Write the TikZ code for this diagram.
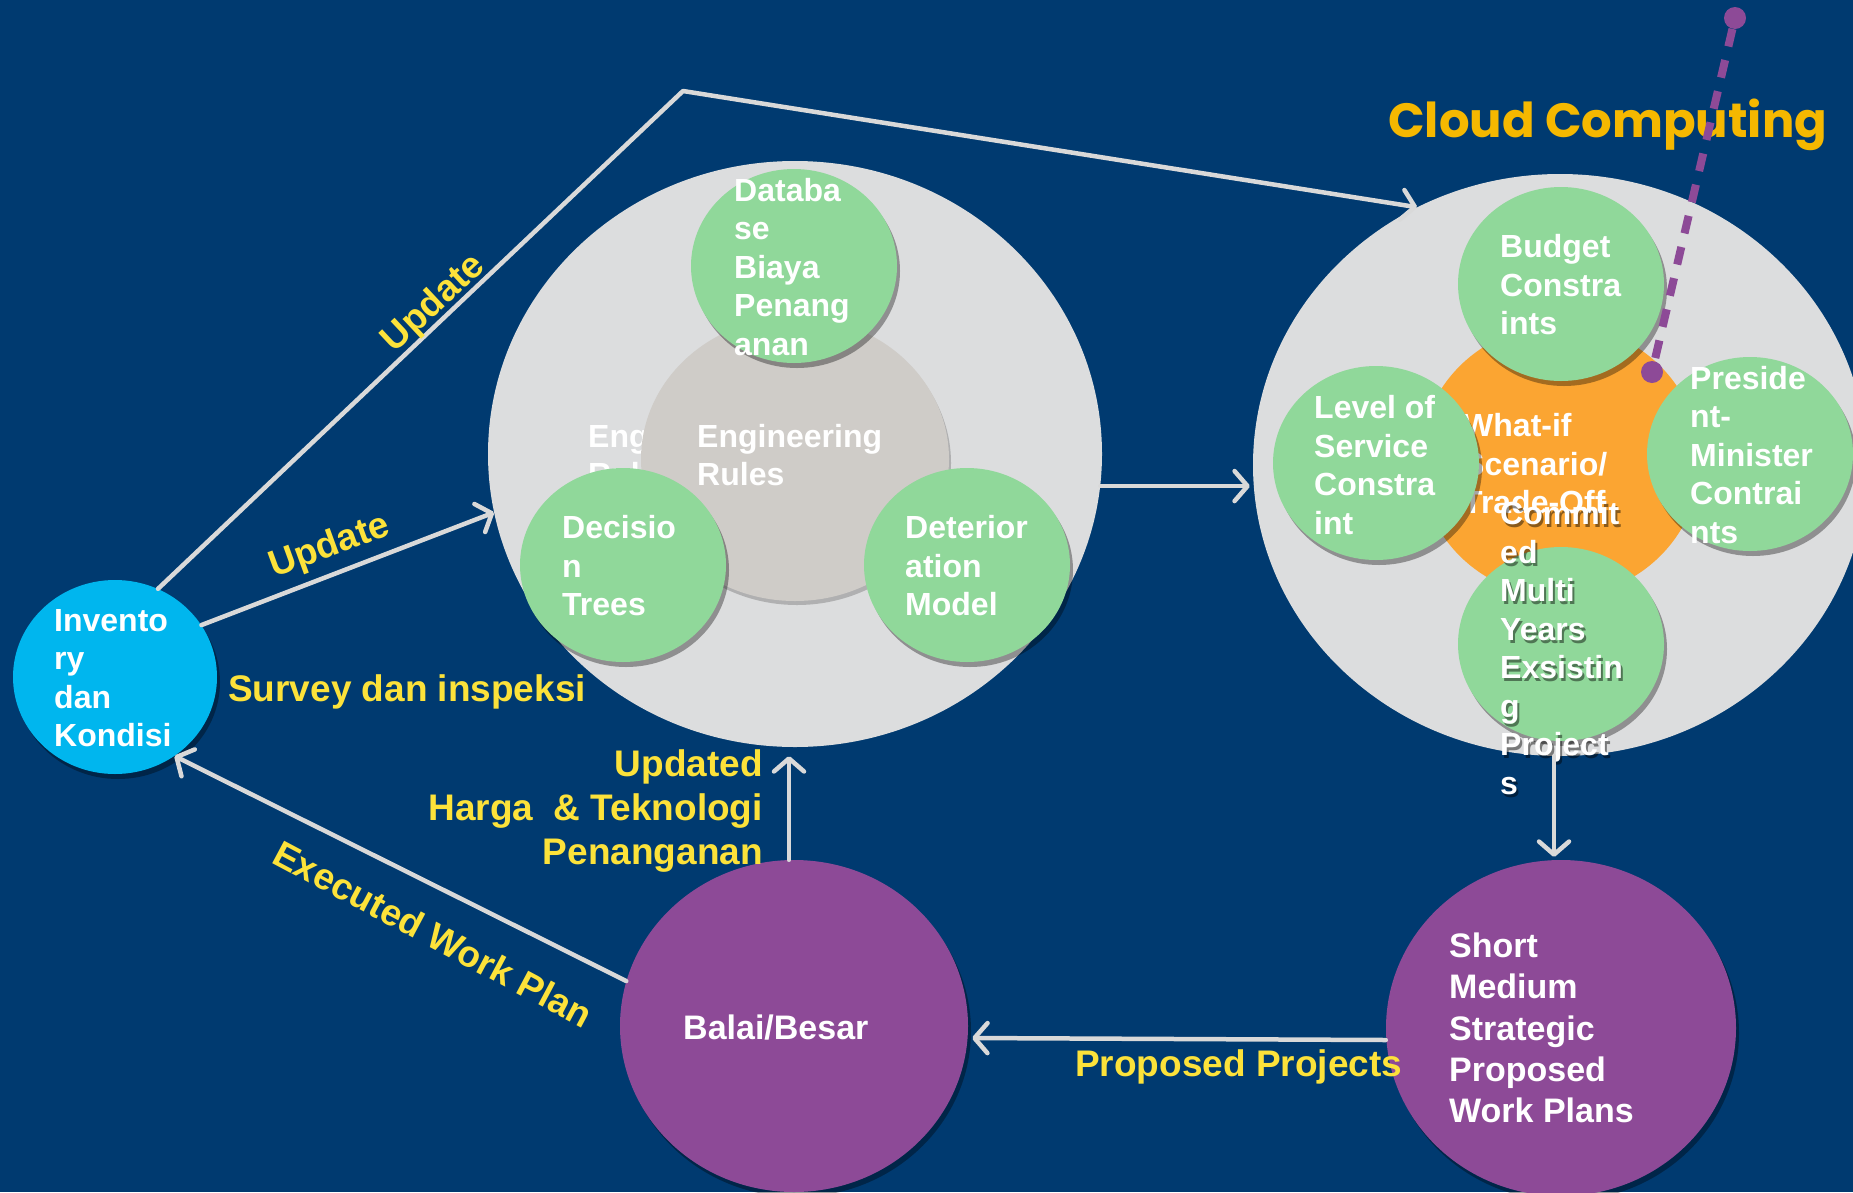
\documentclass[tikz,border=0pt]{standalone}
\usepackage{fontspec}
\setmainfont{Liberation Sans}
\newfontfamily\cloudfont{Poppins}
\usetikzlibrary{shapes.geometric,arrows.meta,shadows}

\definecolor{bgblue}{HTML}{003A70}
\definecolor{biggray}{HTML}{DCDDDE}
\definecolor{innergray}{HTML}{CFCCC8}
\definecolor{leafgreen}{HTML}{90D89A}
\definecolor{orangefill}{HTML}{FBA532}
\definecolor{cyanfill}{HTML}{00B6EE}
\definecolor{purplefill}{HTML}{8D4A97}
\definecolor{labelyellow}{HTML}{FCE23A}
\definecolor{cloudgold}{HTML}{F5B800}
\definecolor{arrowgray}{HTML}{D9D9D9}

\begin{document}
\begin{tikzpicture}[x=1pt,y=-1pt,
  blob/.style={ellipse, inner sep=0pt, draw=none},
  bigc/.style={blob, fill=biggray, minimum width=614pt, minimum height=586pt},
  gnode/.style={blob, fill=leafgreen, minimum width=206pt, minimum height=194pt,
     drop shadow={shadow xshift=3pt, shadow yshift=-5pt, opacity=0.35, fill=black}},
  pnode/.style={blob, fill=purplefill,
     drop shadow={shadow xshift=3pt, shadow yshift=-5pt, opacity=0.35, fill=black}},
  ntext/.style={text=white, font=\fontsize{32}{38.5}\selectfont\bfseries, align=left, anchor=west, inner sep=0pt},
  ptext/.style={text=white, font=\fontsize{34}{41.4}\selectfont\bfseries, align=left, anchor=west, inner sep=0pt},
  lbl/.style={text=labelyellow, font=\fontsize{37}{44}\selectfont\bfseries, inner sep=0pt},
  arr/.style={draw=arrowgray, line width=4.5pt, line cap=round, line join=round,
     -{Straight Barb[length=13pt,width=30pt,round]}},
]
\fill[bgblue] (0,0) rectangle (1853,1192);
\useasboundingbox (0,0) rectangle (1853,1192);

% ---------- left cluster ----------
\node[bigc] (lbig) at (795,454) {};
\node[ntext] (ghost) at (588,455) {Engineering\\Rules};
\node[blob, fill=innergray, minimum width=308pt, minimum height=284pt,
      drop shadow={shadow xshift=2pt, shadow yshift=-4pt, opacity=0.2, fill=black}] (inner) at (795,459) {};
\node[ntext] (innert) at (697,455) {Engineering\\Rules};
\node[gnode] (db) at (794,266) {};
\node[gnode] (dt) at (623,565) {};
\node[gnode] (dm) at (967,565) {};
\node[ntext] (dbt) at (734,267) {Databa\\se\\Biaya\\Penang\\anan};
\node[ntext] (dtt) at (562,566) {Decisio\\n\\Trees};
\node[ntext] (dmt) at (905,566) {Deterior\\ation\\Model};

% ---------- right cluster ----------
\node[bigc, minimum height=582pt] (rbig) at (1560,465) {};
\node[blob, fill=orangefill, minimum width=280pt, minimum height=272pt] (orng) at (1560,461) {};
\node[ntext] (whatif) at (1463,464) {What-if\\Scenario/\\Trade-Off};
\node[gnode] (budget) at (1561,284) {};
\node[gnode] (level) at (1376,463) {};
\node[gnode] (pres) at (1750,454) {};
\node[gnode] (comm) at (1561,644) {};
\node[ntext] (budgett) at (1500,285) {Budget\\Constra\\ints};
\node[ntext] (levelt) at (1314,465) {Level of\\Service\\Constra\\int};
\node[ntext] (prest) at (1690,455) {Preside\\nt-\\Minister\\Contrai\\nts};
\node[ntext, text=black, opacity=0.45] (commsh) at (1502,651) {Commit\\ed\\Multi\\Years\\Exsistin\\g\\Project\\s};
\node[ntext] (commt) at (1500,648) {Commit\\ed\\Multi\\Years\\Exsistin\\g\\Project\\s};

% ---------- other nodes ----------
\node[blob, fill=cyanfill, minimum width=204pt, minimum height=194pt,
      drop shadow={shadow xshift=3pt, shadow yshift=-5pt, opacity=0.35, fill=black}] (inv) at (115,677) {};
\node[ntext] (invt) at (54,678) {Invento\\ry\\dan\\Kondisi};
\node[pnode, minimum width=348pt, minimum height=332pt] (balai) at (794,1026) {};
\node[ptext] (balait) at (683,1028) {Balai/Besar};
\node[pnode, minimum width=350pt, minimum height=336pt] (short) at (1561,1028) {};
\node[ptext] (shortt) at (1449,1028) {Short\\Medium\\Strategic\\Proposed\\Work Plans};

% ---------- connectors ----------
\coordinate (bend) at (683,91);
\draw[arr] (inv.64) -- (bend) -- (rbig.119);
\draw[arr] (inv.31) -- (lbig.191);
\draw[arr] (balai.165) -- (inv.307);
\draw[arr, shorten >=9pt] ([xshift=-5pt]balai.north) -- ([xshift=-6pt]lbig.south);
\draw[arr, shorten >=4pt] ([yshift=-12pt]short.west) -- ([yshift=-12pt]balai.east);
\draw[arr, shorten <=15pt, shorten >=3pt] ([xshift=-7pt]comm.south) -- ([xshift=-7pt]short.north);
\draw[arr, shorten >=3pt] (lbig.-6) -- (rbig.west |- lbig.-6);

% ---------- labels ----------
\node[lbl, rotate=43] (up1) at (434,304) {Update};
\node[lbl, rotate=20] (up2) at (330,547) {Update};
\node[lbl, anchor=west] (survey) at (228,692) {Survey dan inspeksi};
\node[lbl, anchor=east, align=right] (updated) at (763,811) {Updated\\Harga\ \ \& Teknologi\\Penanganan};
\node[lbl, rotate=-28] (exec) at (433,934) {Executed Work Plan};
\node[lbl, anchor=west] (prop) at (1075,1067) {Proposed Projects};
\node[anchor=base west, inner sep=0pt, text=cloudgold] (cloud) at (1388,137)
  {\resizebox{439pt}{!}{\fontsize{54}{60}\selectfont\cloudfont\bfseries Cloud Computing}};

% ---------- purple dashed pointer ----------
\node[circle, fill=purplefill, minimum size=22pt, inner sep=0pt] (pa) at (1735,18) {};
\node[circle, fill=purplefill, minimum size=22pt, inner sep=0pt] (pb) at (1652,372) {};
\draw[purplefill, line width=8pt, dash pattern=on 18pt off 14pt] (pa) -- (pb);
\end{tikzpicture}
\end{document}
